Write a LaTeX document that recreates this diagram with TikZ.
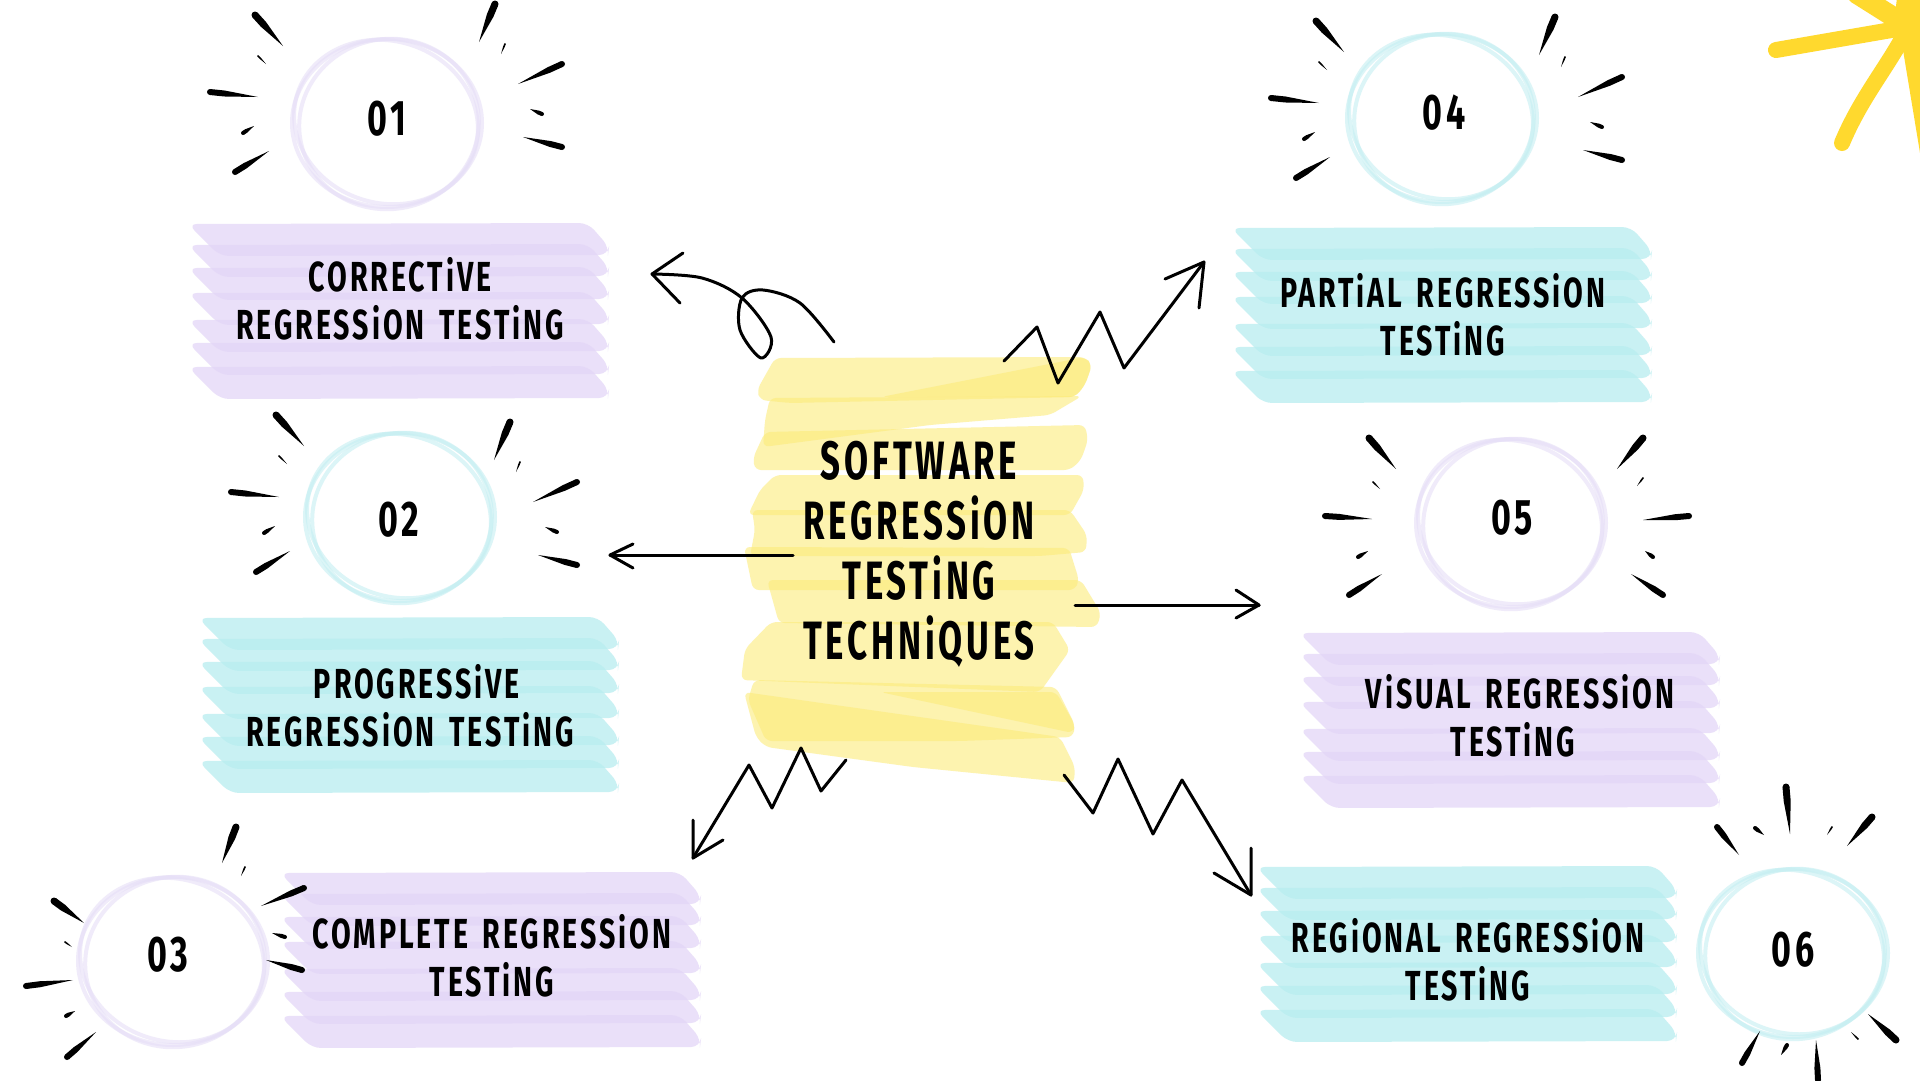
\documentclass[tikz,border=0pt]{standalone}
\usepackage{fontspec}
\usetikzlibrary{calc}
\setmainfont{Fira Sans}[FakeStretch=0.68,LetterSpace=7,WordSpace=1.5,UprightFont=*-Bold,BoldFont=*-Bold]
\newfontfamily\titlefam{Fira Sans}[FakeStretch=0.645,LetterSpace=7,UprightFont=*-Bold]
\definecolor{lavband}{HTML}{E3D6F7}
\definecolor{tealband}{HTML}{B8EDF0}
\definecolor{yelband}{HTML}{FCEB7B}
\definecolor{lavring}{HTML}{E6DFF7}
\definecolor{tealring}{HTML}{C6EFF2}
\definecolor{starcol}{HTML}{FFD92E}
\tikzset{
  bandfill/.style={fill=#1,fill opacity=.75,draw=none,rounded corners=9pt},
  yelfill/.style={fill=yelband,fill opacity=.6,draw=none,rounded corners=6pt},
  ringline/.style={draw=#1,line width=4pt,draw opacity=.6},
  sketch/.style={draw=black,line width=3pt,line cap=round,line join=round},
  labeltext/.style={text=black,align=center,inner sep=0pt,font=\fontsize{42}{48}\selectfont},
  numtext/.style={text=black,inner sep=0pt,font=\fontsize{50}{50}\selectfont},
  titletext/.style={text=black,align=center,inner sep=0pt,font=\titlefam\fontsize{54}{60}\selectfont},
  starstroke/.style={draw=starcol,line cap=round,line width=16pt}
}
% tapered hand-drawn tick: round head at first point, sharp tip at second
\newcommand{\tickmark}[5]{%
  \fill[black] (#1,#2) circle[radius=#5pt];
  \fill[black] ($(#1,#2)!#5pt!90:(#3,#4)$)
     -- ($(#1,#2)!0.3!(#3,#4)!#5pt!90:(#3,#4)$)
     -- (#3,#4)
     -- ($(#1,#2)!0.3!(#3,#4)!#5pt!-90:(#3,#4)$)
     -- ($(#1,#2)!#5pt!-90:(#3,#4)$) -- cycle;}
% burst for circle 01 arrangement: left group shift, right group shift
\newcommand{\burst}[4]{%
  \begin{scope}[shift={(#1,#2)}]
    \tickmark{255}{15}{283}{46}{3.5}
    \tickmark{210}{92}{258}{97}{3}
    \tickmark{235}{172}{269}{151}{3}
    \tickmark{243}{133}{254}{126}{2}
    \tickmark{258}{56}{266}{64}{.8}
  \end{scope}
  \begin{scope}[shift={(#3,#4)}]
    \tickmark{495}{4}{479}{42}{3.5}
    \tickmark{562}{64}{518}{84}{3}
    \tickmark{562}{147}{523}{137}{3}
    \tickmark{542}{114}{530}{109}{2}
    \tickmark{505}{44}{501}{54}{.8}
  \end{scope}}
% seven overlapping brush strokes, top left corner at (#1,#2)
\newcommand{\bandblock}[3]{%
  \begin{scope}[shift={(#1,#2)}]
    \foreach \yy in {0,21,44,69,96,119,143}{
      \fill[bandfill=#3] (-4,\yy) -- (396,\yy-1) -- (417,\yy+23)
        -- (416,\yy+31) -- (28,\yy+32) -- cycle;
    }
  \end{scope}}
% hand-drawn ring
\newcommand{\ringshape}[3]{%
  \draw[ringline=#3] (#1,#2) ellipse[x radius=95pt,y radius=84pt];
  \draw[ringline=#3] (#1+2,#2+1) ellipse[x radius=90pt,y radius=85pt,rotate=12];
  \draw[ringline=#3] (#1-1,#2-1) ellipse[x radius=93pt,y radius=81pt,rotate=-18];}
\begin{document}
\begin{tikzpicture}[x=1pt,y=-1pt]
\useasboundingbox (0,0) rectangle (1920,1080);
\fill[white] (0,0) rectangle (1920,1080);

% star in the corner
\begin{scope}
\clip (0,0) rectangle (1920,1080);
\draw[starstroke] (1776,50) -- (1903,28);
\draw[starstroke] (1842,143) .. controls (1860,100) and (1885,70) .. (1903,37);
\draw[starstroke,line width=20pt] (1857,-6) -- (1903,23);
\fill[starcol] (1897,-2) -- (1922,-2) -- (1922,165) -- (1903,50) -- (1893,30) -- cycle;
\end{scope}

% yellow centre
\fill[yelfill] (775,358) -- (1085,357) -- (1092,365) -- (1085,385) -- (1075,397) -- (790,403) -- (760,400) -- (757,390) -- cycle;
\fill[yelfill] (881,397) -- (1085,357) -- (1092,365) -- (1085,385) -- (1075,397) -- cycle;
\fill[yelfill] (770,398) -- (1082,396) -- (1050,415) -- (930,425) -- (763,447) -- (765,420) -- cycle;
\fill[yelfill] (765,432) -- (1085,425) -- (1088,440) -- (1081,460) -- (1070,470) -- (755,470) -- (753,458) -- cycle;
\fill[yelfill] (775,475) -- (1083,475) -- (1084,490) -- (1070,515) -- (748,515) -- (760,490) -- cycle;
\fill[yelfill] (752,510) -- (1070,510) -- (1087,535) -- (1086,552) -- (1040,556) -- (750,556) -- (755,530) -- cycle;
\fill[yelfill] (744,547) -- (1069,548) -- (1079,580) -- (1075,590) -- (753,590) -- cycle;
\fill[yelfill] (767,580) -- (1081,580) -- (1101,613) -- (1097,627) -- (779,623) -- cycle;
\fill[yelfill] (771,622) -- (1053,622) -- (1070,650) -- (1040,692) -- (741,680) -- (745,649) -- cycle;
\fill[yelfill] (754,680) -- (1056,687) -- (1075,725) -- (1073,737) -- (960,741) -- (766,741) -- (748,700) -- cycle;
\fill[yelfill] (880,692) -- (1056,692) -- (1075,725) -- (1073,733) -- cycle;
\fill[yelfill] (744,692) -- (1060,737) -- (1075,767) -- (1074,783) -- (913,767) -- (766,747) -- (756,737) -- cycle;

% lavender and teal brush blocks
\bandblock{192}{224}{lavband}
\bandblock{202}{618}{tealband}
\bandblock{284}{873}{lavband}
\bandblock{1235}{228}{tealband}
\bandblock{1303}{633}{lavband}
\bandblock{1260}{867}{tealband}

% rings
\ringshape{387}{123}{lavring}
\ringshape{400}{517}{tealring}
\ringshape{173}{961}{lavring}
\ringshape{1442}{118}{tealring}
\ringshape{1511}{523}{lavring}
\ringshape{1793}{953}{tealring}

% bursts
\burst{0}{0}{0}{0}
\burst{21}{400}{15}{418}
\burst{1061}{6}{1060}{13}
% burst 03
\tickmark{54}{901}{84}{923}{3.5}
\tickmark{236}{827}{222}{863}{3.5}
\tickmark{304}{888}{261}{906}{3}
\tickmark{302}{970}{266}{960}{3}
\tickmark{26}{986}{73}{980}{3}
\tickmark{67}{1057}{96}{1032}{3}
\tickmark{285}{937}{272}{933}{2}
\tickmark{66}{1016}{75}{1011}{2}
\tickmark{65}{942}{72}{947}{.8}
\tickmark{245}{867}{241}{876}{.8}
% burst 05
\tickmark{1369}{438}{1396}{469}{3.5}
\tickmark{1643}{438}{1617}{469}{3.5}
\tickmark{1325}{516}{1372}{519}{3}
\tickmark{1689}{516}{1643}{520}{3}
\tickmark{1349}{595}{1382}{574}{3}
\tickmark{1663}{595}{1631}{574}{3}
\tickmark{1358}{557}{1368}{551}{2}
\tickmark{1653}{557}{1645}{551}{2}
\tickmark{1373}{482}{1380}{489}{.8}
\tickmark{1643}{478}{1637}{486}{.8}
% burst 06
\tickmark{1717}{827}{1739}{855}{3}
\tickmark{1786}{787}{1790}{834}{3.5}
\tickmark{1872}{817}{1847}{846}{3.5}
\tickmark{1896}{1040}{1868}{1014}{3.5}
\tickmark{1818}{1080}{1816}{1040}{3}
\tickmark{1742}{1063}{1760}{1031}{3}
\tickmark{1755}{828}{1764}{835}{2}
\tickmark{1832}{827}{1827}{835}{.8}
\tickmark{1787}{1045}{1781}{1055}{2}
\tickmark{1858}{1039}{1851}{1032}{.8}

% numbers
\node[numtext] (n1) at (387,119) {01};
\node[numtext] (n2) at (399,520) {02};
\node[numtext] (n3) at (168,955) {03};
\node[numtext] (n4) at (1444,113) {04};
\node[numtext] (n5) at (1512,518) {05};
\node[numtext] (n6) at (1793,950) {06};

% labels
\node[labeltext] (t1) at (400,299) {CORRECTiVE\\REGRESSiON TESTiNG};
\node[labeltext] (t2) at (410,706) {\hspace{14pt}PROGRESSiVE\\REGRESSiON TESTiNG};
\node[labeltext] (t3) at (492,956) {COMPLETE REGRESSiON\\TESTiNG};
\node[labeltext] (t4) at (1443,315) {PARTiAL REGRESSiON\\TESTiNG};
\node[labeltext] (t5) at (1520,716) {ViSUAL REGRESSiON\\\hspace{-14pt}TESTiNG};
\node[labeltext] (t6) at (1468,960) {REGiONAL REGRESSiON\\TESTiNG};
\node[titletext] (main) at (919,554) {SOFTWARE\\REGRESSiON\\TESTiNG\\TECHNiQUES};

% connectors
\coordinate (c1s) at (834,342); \coordinate (c1e) at (652,274);
\coordinate (c2s) at (1004,361); \coordinate (c2e) at (1204,262);
\coordinate (c3s) at (793,555); \coordinate (c3e) at (610,555);
\coordinate (c4s) at (1075,605); \coordinate (c4e) at (1259,605);
\coordinate (c5s) at (846,760); \coordinate (c5e) at (693,858);
\coordinate (c6s) at (1064,775); \coordinate (c6e) at (1251,895);

\draw[sketch] plot[smooth,tension=.55] coordinates {(c1s) (800,303) (763,290) (742,298) (740,330) (761,358) (771,337) (742,298) (702,278) (c1e)};
\draw[sketch] (683,253) -- (c1e) -- (680,303);

\draw[sketch] (c2s) -- (1037,327) -- (1058,383) -- (1100,312) -- (1124,368) -- (c2e);
\draw[sketch] (1165,279) -- (c2e) -- (1199,308);

\draw[sketch] (c3s) -- (c3e);
\draw[sketch] (633,544) -- (c3e) -- (633,568);

\draw[sketch] (c4s) -- (c4e);
\draw[sketch] (1236,590) -- (c4e) -- (1236,618);

\draw[sketch] (c5s) -- (821,791) -- (801,748) -- (772,808) -- (749,765) -- (c5e);
\draw[sketch] (693,820) -- (c5e) -- (723,840);

\draw[sketch] (c6s) -- (1093,813) -- (1118,759) -- (1153,834) -- (1182,780) -- (c6e);
\draw[sketch] (1251,848) -- (c6e) -- (1214,873);
\end{tikzpicture}
\end{document}
